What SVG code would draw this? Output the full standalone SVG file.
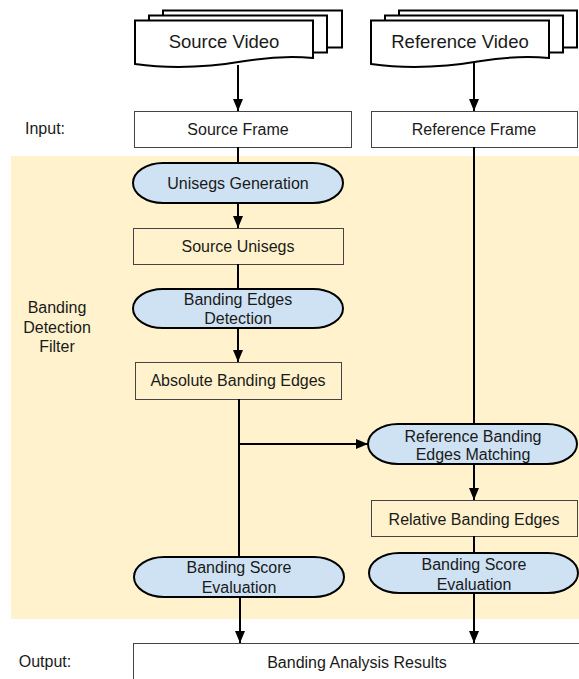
<svg xmlns="http://www.w3.org/2000/svg" width="579" height="679" viewBox="0 0 579 679">
<defs>
<style>
text{font-family:"Liberation Sans",Arial,sans-serif;font-size:16px;fill:#1a1a1a;text-anchor:middle}
.big{font-size:18.5px}
.box{fill:#fff;stroke:#444;stroke-width:1}
.boxb{fill:#fff2cc;stroke:#444;stroke-width:1}
.term{fill:#cfe2f3;stroke:#000;stroke-width:2}
.doc{fill:#fff;stroke:#000;stroke-width:2;stroke-linejoin:miter}
.ln{fill:none;stroke:#000;stroke-width:2}
</style>
<marker id="ah" viewBox="0 0 12 10" refX="12" refY="5" markerWidth="12" markerHeight="10" markerUnits="userSpaceOnUse" orient="auto">
<path d="M0,0 L12,5 L0,10 z" fill="#000"/>
</marker>
</defs>
<rect width="579" height="679" fill="#fff"/>
<rect id="filter-region" x="11" y="156" width="568" height="463" fill="#fff2cc"/>

<g id="labels">
<text x="45" y="134">Input:</text>
<text x="57" y="313">Banding</text>
<text x="57" y="333">Detection</text>
<text x="57" y="352">Filter</text>
<text x="45" y="667">Output:</text>
</g>

<g id="source-video">
<rect class="doc" x="163" y="10.5" width="179" height="37"/>
<rect class="doc" x="149" y="15.5" width="178" height="37"/>
<path class="doc" d="M135,20.5 H313 V58 C290,56 270,57 245,61 C210,67 170,69 135,64 Z"/>
<text class="big" x="224" y="48">Source Video</text>
</g>

<g id="reference-video">
<rect class="doc" x="399" y="10.5" width="178" height="37"/>
<rect class="doc" x="385" y="15.5" width="178" height="37"/>
<path class="doc" d="M371,20.5 H549 V58 C526,56 506,57 481,61 C446,67 406,69 371,64 Z"/>
<text class="big" x="460" y="48">Reference Video</text>
</g>

<g id="source-frame">
<rect class="box" x="134.5" y="111.5" width="217" height="36"/>
<text x="238" y="135">Source Frame</text>
</g>

<g id="reference-frame">
<rect class="box" x="371.5" y="111.5" width="206" height="36"/>
<text x="474" y="135">Reference Frame</text>
</g>

<g id="unisegs-generation">
<rect class="term" x="133" y="163" width="210" height="40" rx="30" ry="20"/>
<text x="238" y="189">Unisegs Generation</text>
</g>

<g id="source-unisegs">
<rect class="boxb" x="133.5" y="228.5" width="210" height="36"/>
<text x="238" y="252">Source Unisegs</text>
</g>

<g id="banding-edges-detection">
<rect class="term" x="133" y="289" width="210" height="39" rx="30" ry="19.5"/>
<text x="238" y="305">Banding Edges</text>
<text x="238" y="324">Detection</text>
</g>

<g id="absolute-banding-edges">
<rect class="boxb" x="135.5" y="362.5" width="206" height="37"/>
<text x="238" y="386">Absolute Banding Edges</text>
</g>

<g id="reference-banding-edges-matching">
<rect class="term" x="368" y="424" width="209" height="40" rx="30" ry="20"/>
<text x="473" y="442">Reference Banding</text>
<text x="473" y="460">Edges Matching</text>
</g>

<g id="relative-banding-edges">
<rect class="boxb" x="371.5" y="500.5" width="206" height="36"/>
<text x="474" y="525">Relative Banding Edges</text>
</g>

<g id="banding-score-left">
<rect class="term" x="134" y="557" width="210" height="40" rx="30" ry="20"/>
<text x="239" y="573">Banding Score</text>
<text x="239" y="593">Evaluation</text>
</g>

<g id="banding-score-right">
<rect class="term" x="369" y="553" width="209" height="40" rx="30" ry="20"/>
<text x="474" y="570">Banding Score</text>
<text x="474" y="590">Evaluation</text>
</g>

<g id="banding-analysis-results">
<rect class="box" x="133.5" y="643.5" width="446" height="36"/>
<text x="357" y="668">Banding Analysis Results</text>
</g>

<g id="connectors">
<line class="ln" x1="238" y1="65" x2="238" y2="111" marker-end="url(#ah)"/>
<line class="ln" x1="474" y1="62" x2="474" y2="111" marker-end="url(#ah)"/>
<line class="ln" x1="238" y1="147" x2="238" y2="163"/>
<line class="ln" x1="238" y1="203" x2="238" y2="228" marker-end="url(#ah)"/>
<line class="ln" x1="238" y1="264" x2="238" y2="289"/>
<line class="ln" x1="238" y1="328" x2="238" y2="362" marker-end="url(#ah)"/>
<line class="ln" x1="239" y1="399" x2="239" y2="557"/>
<line class="ln" x1="239" y1="444" x2="368" y2="444" marker-end="url(#ah)"/>
<line class="ln" x1="474" y1="147" x2="474" y2="424"/>
<line class="ln" x1="474" y1="464" x2="474" y2="500" marker-end="url(#ah)"/>
<line class="ln" x1="474" y1="536" x2="474" y2="553"/>
<line class="ln" x1="240" y1="597" x2="240" y2="643" marker-end="url(#ah)"/>
<line class="ln" x1="474" y1="593" x2="474" y2="643" marker-end="url(#ah)"/>
</g>
</svg>
